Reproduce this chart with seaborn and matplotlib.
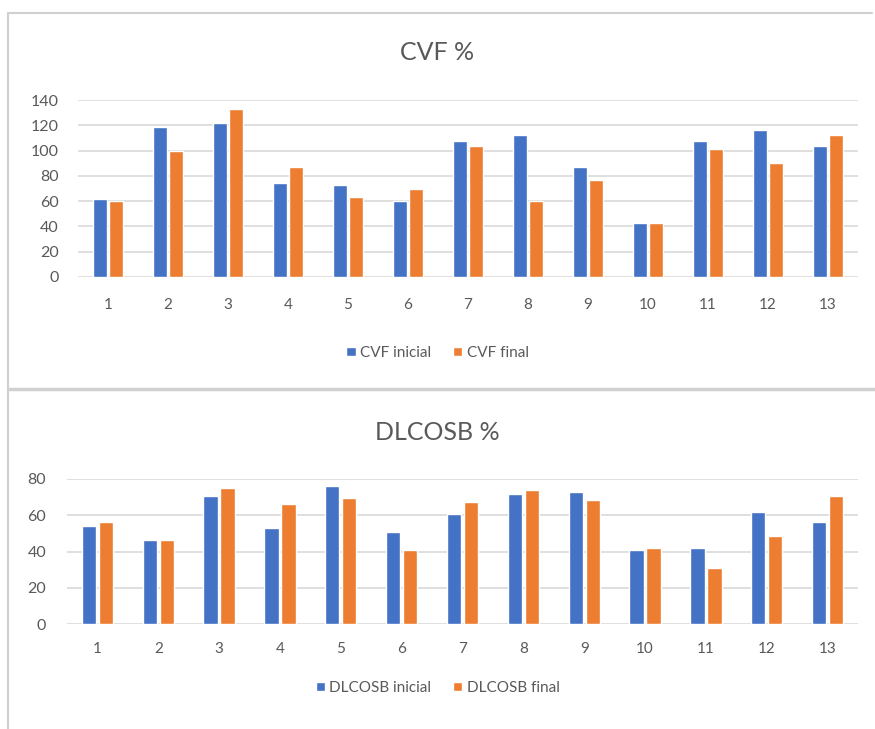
import numpy as np
import pandas as pd
import matplotlib
matplotlib.use("Agg")
import matplotlib.pyplot as plt
from matplotlib.lines import Line2D
import seaborn as sns

# --- data ---
pacientes = [str(i) for i in range(1, 14)]
cvf_inicial = [62, 119, 122, 74, 72.5, 60, 107.5, 112, 87, 42.5, 107.5, 116.5, 104]
cvf_final = [60, 100, 133, 87, 63, 70, 104, 60, 77, 42.5, 101, 90, 112]
dlco_inicial = [54, 46.3, 70.6, 53, 76, 51, 60.7, 71.7, 72.8, 40.8, 42, 61.8, 56.3]
dlco_final = [56.5, 46.3, 75, 66.4, 69.7, 41, 67.1, 73.7, 68.4, 42, 31, 48.5, 70.6]

AZUL = "#4472C4"
NARANJA = "#ED7D31"
GRIS_TXT = "#595959"
GRIS_GRID = "#D9D9D9"

sns.set_theme(style="white")
plt.rcParams["font.family"] = ["Lato", "DejaVu Sans"]


def long_df(ini, fin, lab_ini, lab_fin):
    return pd.concat([
        pd.DataFrame({"paciente": pacientes, "valor": ini, "serie": lab_ini}),
        pd.DataFrame({"paciente": pacientes, "valor": fin, "serie": lab_fin}),
    ], ignore_index=True)


def dibujar(ax, df, titulo, ymax, paso, legend_y, title_y, xpad, ypad):
    sns.barplot(
        data=df, x="paciente", y="valor", hue="serie",
        palette=[AZUL, NARANJA], width=0.56, gap=0.16,
        saturation=1, ax=ax, legend=True
    )
    ax.set_ylim(0, ymax)
    ax.set_yticks(np.arange(0, ymax + 1, paso))
    ax.set_xlim(-0.5, len(pacientes) - 0.5)
    ax.yaxis.grid(True, color=GRIS_GRID, linewidth=1.2)
    ax.set_axisbelow(True)
    for s in ax.spines.values():
        s.set_visible(False)
    ax.tick_params(axis="x", length=0, pad=xpad, labelsize=11, colors=GRIS_TXT)
    ax.tick_params(axis="y", length=0, pad=ypad, labelsize=11.5, colors=GRIS_TXT)
    ax.set_xlabel("")
    ax.set_ylabel("")
    ax.legend_.remove()
    handles, labels = ax.get_legend_handles_labels()
    fig.legend(
        handles, labels, loc="center", ncol=2, frameon=False,
        bbox_to_anchor=(0.5, 1 - legend_y / 729), bbox_transform=fig.transFigure,
        fontsize=11, labelcolor=GRIS_TXT, handlelength=0.6, handleheight=0.6,
        handletextpad=0.3, columnspacing=1.4
    )
    fig.text(0.5, 1 - title_y / 729, titulo, ha="center", va="center",
             fontsize=18, color=GRIS_TXT)


fig = plt.figure(figsize=(8.75, 7.29), dpi=100)

ax1 = fig.add_axes([78 / 875, 1 - 277 / 729, 780 / 875, 177 / 729])
dibujar(ax1, long_df(cvf_inicial, cvf_final, "CVF inicial", "CVF final"),
        "CVF %", 140, 20, 353, 52, 15, 14)

ax2 = fig.add_axes([67 / 875, 1 - 624 / 729, 791 / 875, 145 / 729])
dibujar(ax2, long_df(dlco_inicial, dlco_final, "DLCOSB inicial", "DLCOSB final"),
        "DLCOSB %", 80, 20, 688, 433, 13, 15)

# marcos de los graficos de Excel
borde = "#D0D0D0"
fig.add_artist(Line2D([8 / 875, 8 / 875], [0, 1 - 13 / 729], color=borde, lw=1.5))
fig.add_artist(Line2D([8 / 875, 872 / 875], [1 - 13 / 729, 1 - 13 / 729], color=borde, lw=1.5))
fig.add_artist(Line2D([8 / 875, 1], [1 - 389 / 729, 1 - 389 / 729], color=borde, lw=2.5))

fig.savefig("out.png", dpi=100)
